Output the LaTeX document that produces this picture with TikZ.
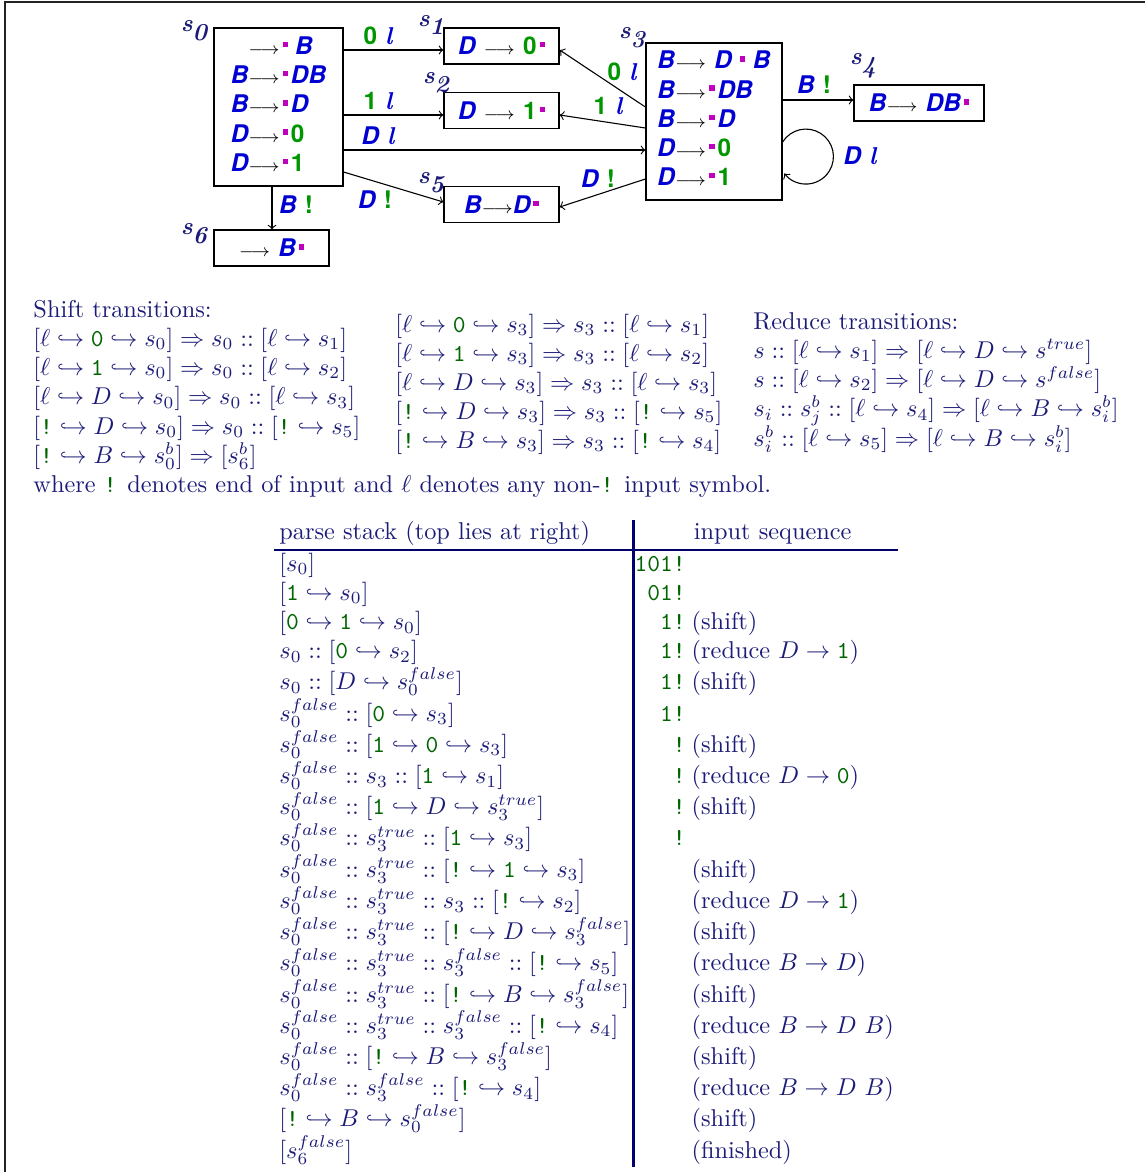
\documentclass[tikz,border=0pt]{standalone}
\usepackage{fontspec}
\usepackage{array}
\newfontfamily\heros{TeX Gyre Heros}

\definecolor{textnavy}{RGB}{28,28,120}
\definecolor{rulenavy}{RGB}{0,0,110}
\definecolor{tokgreen}{RGB}{0,100,0}
\definecolor{ntblue}{RGB}{0,0,210}
\definecolor{tmgreen}{RGB}{0,150,0}
\definecolor{dotmag}{RGB}{190,0,190}
\definecolor{framegray}{RGB}{35,35,35}

\newcommand\tok[1]{\textcolor{tokgreen}{\texttt{#1}}}
\newcommand\hra{\hookrightarrow}
\newcommand\sfa[1]{s_{#1}^{\raisebox{0.6pt}[5.6pt][0pt]{$\scriptstyle false$}}}
\newcommand\stu[1]{s_{#1}^{true}}
\newcommand\cmt[1]{\hspace{2.5pt}(#1)}
\newcommand\nt[1]{\textcolor{ntblue}{\heros\bfseries\itshape #1}}
\newcommand\tm[1]{\textcolor{tmgreen}{\heros\bfseries #1}}
\newcommand\anyl{\textcolor{ntblue}{\rmfamily\bfseries\itshape l}}
\newcommand\itm{\hspace{0.12em}\textcolor{dotmag}{\rule[0.3em]{0.22em}{0.22em}}\hspace{0.12em}}
\newcommand\yld{{\fontsize{7.5}{9}\selectfont$\longrightarrow$}}
\newcommand\stname[1]{{\bfseries\itshape s\raisebox{-0.8ex}{#1}}}

\tikzset{
  statebox/.style={draw, line width=0.5pt, inner sep=0pt, font=\fontsize{10}{12}\selectfont},
  transarrow/.style={->, line width=0.45pt},
  edgelabel/.style={inner sep=0pt, font=\fontsize{10}{12}\selectfont},
  stlabel/.style={inner sep=0pt, text=textnavy},
  txt/.style={anchor=base west, inner sep=0pt, text=textnavy},
}

\begin{document}
\begin{tikzpicture}[x=0.411pt, y=-0.411pt]
	\useasboundingbox (0,0) rectangle (1145,1172);
	% 外框
	\draw[framegray, line width=1pt] (5,1172) -- (5,2) -- (1145,2);
	
	% 状态结点
	\node[statebox, minimum width=53pt, minimum height=64.9pt] (s0) at (278.5,107) {%
		\begin{tabular}{@{}r@{}l@{}}
			\yld & \itm\,\nt{B}\\
			\nt{B}\yld & \itm\nt{DB}\\
			\nt{B}\yld & \itm\nt{D}\\
			\nt{D}\yld & \itm\tm{0}\\
			\nt{D}\yld & \itm\tm{1}
	\end{tabular}};
	\node[statebox, minimum width=55.9pt, minimum height=64.5pt] (s3) at (714,121.5) {%
		\begin{tabular}{@{}r@{}l@{}}
			\nt{B}\yld & \ \nt{D}\hspace{2pt}\itm\hspace{2pt}\nt{B}\\
			\nt{B}\yld & \itm\nt{DB}\\
			\nt{B}\yld & \itm\nt{D}\\
			\nt{D}\yld & \itm\tm{0}\\
			\nt{D}\yld & \itm\tm{1}
	\end{tabular}};
	\node[statebox, minimum width=47.3pt, minimum height=14.8pt] (s1) at (501.5,46) {\nt{D} \yld\ \tm{0}\itm};
	\node[statebox, minimum width=47.3pt, minimum height=14.8pt] (s2) at (501.5,110.5) {\nt{D} \yld\ \tm{1}\itm};
	\node[statebox, minimum width=47.3pt, minimum height=14.8pt] (s5) at (501.5,204.5) {\nt{B}\yld\nt{D}\itm};
	\node[statebox, minimum width=47.3pt, minimum height=14.8pt] (s6) at (271.5,248) {\yld\ \nt{B}\itm};
	\node[statebox, minimum width=53.4pt, minimum height=14.8pt] (s4) at (919,103) {\nt{B}\yld\ \nt{DB}\itm};
	
	% 状态名
	\node[stlabel] (n0) at (194,31) {\stname{0}};
	\node[stlabel] (n1) at (431,25) {\stname{1}};
	\node[stlabel] (n2) at (436,83) {\stname{2}};
	\node[stlabel] (n3) at (632,38) {\stname{3}};
	\node[stlabel] (n4) at (863,66) {\stname{4}};
	\node[stlabel] (n5) at (431,183) {\stname{5}};
	\node[stlabel] (n6) at (194,234) {\stname{6}};
	
	% 转移箭头
	\draw[transarrow] (s0.east |- 0,50) -- (s1.west |- 0,50);
	\draw[transarrow] (s0.east |- 0,115) -- (s2.west |- 0,115);
	\draw[transarrow] (s0.east |- 0,150) -- (s3.west |- 0,150);
	\draw[transarrow] (s0.east |- 0,172) -- (s5.west |- 0,202);
	\draw[transarrow] (s0.south -| 272,0) -- (s6.north -| 272,0);
	\draw[transarrow] (s3.west |- 0,107) -- (s1.east |- 0,50);
	\draw[transarrow] (s3.west |- 0,128) -- (s2.east |- 0,115);
	\draw[transarrow] (s3.west |- 0,179) -- (s5.east |- 0,207);
	\draw[transarrow] (s3.east |- 0,100) -- (s4.west |- 0,100);
	\draw[transarrow] (s3.east |- 0,142) arc[start angle=148, end angle=-142, radius=11.3pt];
	
	% 箭头标签
	\node[edgelabel] (l01) at (378,36) {\tm{0} \anyl};
	\node[edgelabel] (l02) at (378,101) {\tm{1} \anyl};
	\node[edgelabel] (l03) at (378,136) {\nt{D} \anyl};
	\node[edgelabel] (l05) at (375,200) {\nt{D} \tm{!}};
	\node[edgelabel] (l06) at (296,205) {\nt{B} \tm{!}};
	\node[edgelabel] (l31) at (622,72) {\tm{0} \anyl};
	\node[edgelabel] (l32) at (608,106) {\tm{1} \anyl};
	\node[edgelabel] (l35) at (598,179) {\nt{D} \tm{!}};
	\node[edgelabel] (l34) at (814,85) {\nt{B} \tm{!}};
	\node[edgelabel] (l33) at (860,156) {\nt{D} \anyl};
	
	% 移进规则
	\node[txt] (shhead) at (33,317) {Shift transitions:};
	\node[txt] (sh1) at (33,346) {$[\ell \hra \tok{0} \hra s_0] \Rightarrow s_0 :: [\ell \hra s_1]$};
	\node[txt] (sh2) at (33,375) {$[\ell \hra \tok{1} \hra s_0] \Rightarrow s_0 :: [\ell \hra s_2]$};
	\node[txt] (sh3) at (33,404.5) {$[\ell \hra D \hra s_0] \Rightarrow s_0 :: [\ell \hra s_3]$};
	\node[txt] (sh4) at (33,434) {$[\tok{!} \hra D \hra s_0] \Rightarrow s_0 :: [\tok{!} \hra s_5]$};
	\node[txt] (sh5) at (33,463) {$[\tok{!} \hra B \hra s_0^b] \Rightarrow [s_6^b]$};
	\node[txt] (sh6) at (395,332) {$[\ell \hra \tok{0} \hra s_3] \Rightarrow s_3 :: [\ell \hra s_1]$};
	\node[txt] (sh7) at (395,361) {$[\ell \hra \tok{1} \hra s_3] \Rightarrow s_3 :: [\ell \hra s_2]$};
	\node[txt] (sh8) at (395,390) {$[\ell \hra D \hra s_3] \Rightarrow s_3 :: [\ell \hra s_3]$};
	\node[txt] (sh9) at (395,419) {$[\tok{!} \hra D \hra s_3] \Rightarrow s_3 :: [\tok{!} \hra s_5]$};
	\node[txt] (sh10) at (395,448) {$[\tok{!} \hra B \hra s_3] \Rightarrow s_3 :: [\tok{!} \hra s_4]$};
	
	% 归约规则
	\node[txt] (rdhead) at (753,329) {Reduce transitions:};
	\node[txt] (rd1) at (753,358) {$s :: [\ell \hra s_1] \Rightarrow [\ell \hra D \hra s^{true}]$};
	\node[txt] (rd2) at (753,387) {$s :: [\ell \hra s_2] \Rightarrow [\ell \hra D \hra s^{false}]$};
	\node[txt] (rd3) at (753,416.5) {$s_i :: s_j^b :: [\ell \hra s_4] \Rightarrow [\ell \hra B \hra s_i^b]$};
	\node[txt] (rd4) at (753,446) {$s_i^b :: [\ell \hra s_5] \Rightarrow [\ell \hra B \hra s_i^b]$};
	\node[txt] (note) at (33,492) {where \tok{!} denotes end of input and $\ell$ denotes any non-\tok{!} input symbol.};
	
	% 分析过程表
	\node[anchor=north west, inner sep=0pt, text=textnavy] (trace) at (274,519) {%
		\begin{tabular}{@{\hspace{2pt}}l@{\hspace{0.5pt}{\color{rulenavy}\vrule width 1.2pt}}l@{\hspace{1.5pt}}}
			parse stack (top lies at right) & \hfill\hspace{7pt}input sequence\hfill\mbox{}\\
			\noalign{\begingroup\color{rulenavy}\hrule height 0.8pt\endgroup}
			$[s_0]$ & \tok{101!}\\
			$[\tok{1} \hra s_0]$ & \tok{~01!}\\
			$[\tok{0} \hra \tok{1} \hra s_0]$ & \tok{~~1!}\cmt{shift}\\
			$s_0 :: [\tok{0} \hra s_2]$ & \tok{~~1!}\cmt{reduce $D \rightarrow \tok{1}$}\\
			$s_0 :: [D \hra \sfa{0}]$ & \tok{~~1!}\cmt{shift}\\
			$\sfa{0} :: [\tok{0} \hra s_3]$ & \tok{~~1!}\\
			$\sfa{0} :: [\tok{1} \hra \tok{0} \hra s_3]$ & \tok{~~~!}\cmt{shift}\\
			$\sfa{0} :: s_3 :: [\tok{1} \hra s_1]$ & \tok{~~~!}\cmt{reduce $D \rightarrow \tok{0}$}\\
			$\sfa{0} :: [\tok{1} \hra D \hra \stu{3}]$ & \tok{~~~!}\cmt{shift}\\
			$\sfa{0} :: \stu{3} :: [\tok{1} \hra s_3]$ & \tok{~~~!}\\
			$\sfa{0} :: \stu{3} :: [\tok{!} \hra \tok{1} \hra s_3]$ & \tok{~~~~}\cmt{shift}\\
			$\sfa{0} :: \stu{3} :: s_3 :: [\tok{!} \hra s_2]$ & \tok{~~~~}\cmt{reduce $D \rightarrow \tok{1}$}\\
			$\sfa{0} :: \stu{3} :: [\tok{!} \hra D \hra \sfa{3}]$ & \tok{~~~~}\cmt{shift}\\
			$\sfa{0} :: \stu{3} :: \sfa{3} :: [\tok{!} \hra s_5]$ & \tok{~~~~}\cmt{reduce $B \rightarrow D$}\\
			$\sfa{0} :: \stu{3} :: [\tok{!} \hra B \hra \sfa{3}]$ & \tok{~~~~}\cmt{shift}\\
			$\sfa{0} :: \stu{3} :: \sfa{3} :: [\tok{!} \hra s_4]$ & \tok{~~~~}\cmt{reduce $B \rightarrow D\ B$}\\
			$\sfa{0} :: [\tok{!} \hra B \hra \sfa{3}]$ & \tok{~~~~}\cmt{shift}\\
			$\sfa{0} :: \sfa{3} :: [\tok{!} \hra s_4]$ & \tok{~~~~}\cmt{reduce $B \rightarrow D\ B$}\\
			$[\tok{!} \hra B \hra \sfa{0}]$ & \tok{~~~~}\cmt{shift}\\
			$[\sfa{6}]$ & \tok{~~~~}\cmt{finished}
		\end{tabular}};
\end{tikzpicture}
\end{document}
